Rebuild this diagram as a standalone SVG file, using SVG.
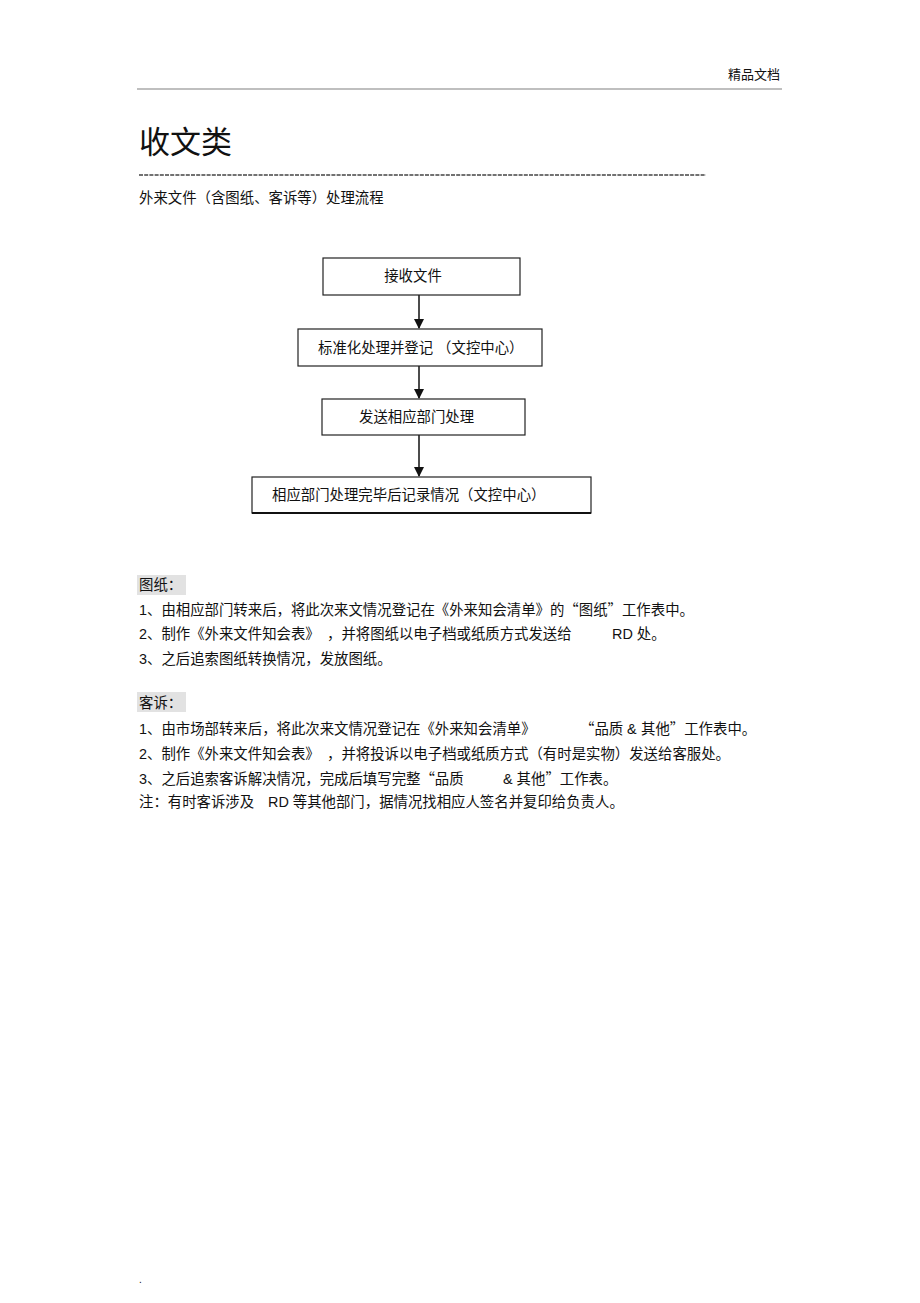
<svg xmlns="http://www.w3.org/2000/svg" width="920" height="1303" viewBox="0 0 920 1303">
<style>
text{font-family:"Liberation Sans","Noto Sans CJK SC",sans-serif;fill:#111;}
.t{font-size:14.4px;}
.q{font-family:"Noto Sans CJK SC",sans-serif;}
.box{fill:#fff;stroke:#222;stroke-width:1.2;}
.conn{stroke:#111;stroke-width:1.5;fill:none;}
.hl{fill:#e2e2e2;}
</style>
<defs>
<marker id="ah" markerWidth="10" markerHeight="12" refX="9" refY="5" orient="auto" markerUnits="userSpaceOnUse">
<path d="M0,0 L10,5 L0,10 Z" fill="#111"/>
</marker>
</defs>
<rect width="920" height="1303" fill="#fff"/>
<text x="780" y="79" font-size="13" text-anchor="end">精品文档</text>
<line x1="137" y1="89" x2="782" y2="89" stroke="#aaa" stroke-width="1.5"/>
<text x="139" y="153" font-size="31">收文类</text>
<line x1="139" y1="175" x2="706" y2="175" stroke="#444" stroke-width="1.6" stroke-dasharray="4,1.2"/>
<text x="139" y="203" class="t">外来文件（含图纸、客诉等）处理流程</text>

<g id="connectors">
<line class="conn" x1="419" y1="295" x2="419" y2="328" marker-end="url(#ah)"/>
<line class="conn" x1="419" y1="366" x2="419" y2="398" marker-end="url(#ah)"/>
<line class="conn" x1="419" y1="435" x2="419" y2="476" marker-end="url(#ah)"/>
</g>
<g id="n1">
<rect class="box" x="323" y="258" width="197" height="37"/>
<text x="413" y="281" class="t" text-anchor="middle">接收文件</text>
</g>
<g id="n2">
<rect class="box" x="298" y="329" width="244" height="37"/>
<text x="318" y="353" class="t">标准化处理并登记 （文控中心）</text>
</g>
<g id="n3">
<rect class="box" x="322" y="399" width="203" height="36"/>
<text x="359" y="422" class="t">发送相应部门处理</text>
</g>
<g id="n4">
<rect class="box" x="252" y="477" width="339" height="36"/>
<line x1="252" y1="513" x2="591" y2="513" stroke="#111" stroke-width="2"/>
<text x="272" y="500" class="t">相应部门处理完毕后记录情况（文控中心）</text>
</g>

<rect class="hl" x="137" y="575" width="49" height="20"/>
<text x="139" y="590" class="t">图纸：</text>
<text x="139" y="615" class="t">1、由相应部门转来后，将此次来文情况登记在《外来知会清单》的<tspan class="q">“</tspan>图纸<tspan class="q">”</tspan>工作表中。</text>
<text x="139" y="639" class="t">2、制作《外来文件知会表》</text>
<text x="327" y="639" class="t">，并将图纸以电子档或纸质方式发送给</text>
<text x="612" y="639" class="t">RD 处。</text>
<text x="139" y="664" class="t">3、之后追索图纸转换情况，发放图纸。</text>

<rect class="hl" x="137" y="692" width="49" height="20"/>
<text x="139" y="708" class="t">客诉：</text>
<text x="139" y="734" class="t">1、由市场部转来后，将此次来文情况登记在《外来知会清单》</text>
<text x="580" y="734" class="t"><tspan class="q">“</tspan>品质</text>
<text x="627" y="734" class="t">&amp;</text>
<text x="641" y="734" class="t">其他<tspan class="q">”</tspan>工作表中。</text>
<text x="139" y="759" class="t">2、制作《外来文件知会表》</text>
<text x="327" y="759" class="t">，并将投诉以电子档或纸质方式（有时是实物）发送给客服处。</text>
<text x="139" y="784" class="t">3、之后追索客诉解决情况，完成后填写完整<tspan class="q">“</tspan>品质</text>
<text x="503" y="784" class="t">&amp; 其他<tspan class="q">”</tspan>工作表。</text>
<text x="139" y="807" class="t">注：有时客诉涉及 <tspan x="268">RD</tspan> 等其他部门，据情况找相应人签名并复印给负责人。</text>
<text x="139" y="1283" font-size="10">.</text>
</svg>
